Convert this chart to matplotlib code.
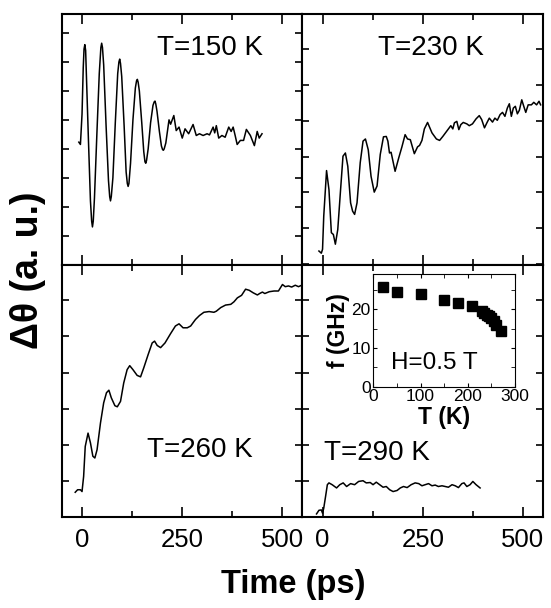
import numpy as np
import matplotlib
matplotlib.use("Agg")
import matplotlib.pyplot as plt
from matplotlib.ticker import MultipleLocator

plt.rcParams['font.family'] = ['Liberation Sans', 'DejaVu Sans']

# T = 150 K trace (time in ps, signal in a.u.)
t_150 = [-8, -4, 0, 3, 5, 7, 9, 11, 16, 21, 24, 26, 28, 31, 37, 43, 47, 49, 51, 54, 60,
         66, 69, 71, 73, 77, 83, 89, 92, 94, 96, 99, 105, 110, 113, 115, 117, 121, 127,
         133, 136, 138, 140, 143, 149, 154, 157, 159, 161, 165, 171, 177, 180, 182, 184,
         187, 193, 198, 201, 203, 205, 209, 214, 217, 221, 229, 235, 242, 250, 257, 266,
         277, 285, 293, 302, 312, 318, 327, 331, 335, 341, 349, 357, 366, 372, 377, 382,
         387, 395, 403, 410, 420, 430, 437, 442, 449]
y_150 = [4.23, 4.15, 5.2, 6.8, 7.45, 7.6, 7.4, 6.5, 4.3, 2.2, 1.5, 1.3, 1.5, 2.3, 4.5,
         6.6, 7.5, 7.65, 7.5, 6.9, 4.8, 2.9, 2.35, 2.2, 2.35, 3.0, 4.9, 6.6, 7.0, 7.1,
         6.95, 6.5, 4.8, 3.2, 2.8, 2.7, 2.8, 3.5, 5.0, 6.1, 6.35, 6.4, 6.3, 6.0, 4.9,
         3.9, 3.55, 3.5, 3.6, 4.0, 4.9, 5.5, 5.62, 5.65, 5.55, 5.3, 4.6, 4.1, 3.97, 3.95,
         4.0, 4.2, 4.7, 5.0, 4.85, 5.15, 4.63, 4.75, 4.37, 4.69, 4.52, 4.84, 4.46, 4.52,
         4.46, 4.52, 4.48, 4.75, 4.55, 4.80, 4.37, 4.46, 4.40, 4.75, 4.60, 4.75, 4.46,
         4.15, 4.29, 4.29, 4.67, 4.46, 4.11, 4.60, 4.37, 4.52]

# T = 230 K trace
t_230 = [-9, -3, 0, 3, 10, 16, 22, 27, 32, 38, 45, 51, 57, 63, 70, 75, 80, 86, 94, 101,
         107, 114, 121, 129, 136, 144, 152, 159, 163, 167, 171, 181, 190, 198, 206, 212,
         219, 229, 237, 242, 248, 254, 262, 273, 284, 292, 300, 308, 314, 320, 325, 329,
         335, 340, 345, 351, 360, 366, 374, 383, 391, 397, 404, 410, 416, 424, 430, 436,
         443, 449, 455, 461, 466, 471, 476, 481, 486, 491, 497, 502, 507, 513, 521, 527,
         534, 540, 544]
y_230 = [0.37, 0.31, 0.42, 1.34, 2.61, 2.08, 0.88, 0.83, 0.56, 0.97, 2.08, 3.01, 3.10,
         2.73, 1.71, 1.48, 1.39, 1.71, 2.83, 3.43, 3.49, 3.19, 2.45, 2.01, 2.18, 3.06,
         3.55, 3.56, 3.43, 3.10, 3.12, 2.59, 2.96, 3.27, 3.61, 3.49, 3.47, 3.08, 3.27,
         3.31, 3.45, 3.77, 3.95, 3.66, 3.49, 3.45, 3.56, 3.68, 3.77, 3.86, 3.77, 3.94,
         3.98, 3.75, 3.89, 3.95, 3.91, 3.86, 3.91, 4.05, 4.14, 4.03, 3.80, 3.94, 4.07,
         3.96, 4.07, 4.01, 4.17, 4.23, 4.12, 4.35, 4.47, 4.12, 4.35, 4.40, 4.19, 4.29,
         4.58, 4.40, 4.23, 4.44, 4.44, 4.51, 4.44, 4.54, 4.44]

# T = 260 K trace
t_260 = [-17, -11, -4, 0, 4, 8, 15, 21, 27, 32, 37.5, 46, 54, 61, 67, 73, 82, 88, 96,
         104, 112.5, 119, 127, 137.5, 146, 154, 165, 175, 181, 187.5, 196, 207, 221, 233,
         242, 252, 262.5, 271, 283, 293, 304, 317, 329, 335, 346, 358, 371, 379, 387.5,
         398, 408, 417, 427, 437.5, 443, 450, 456, 467, 479, 490, 500, 507, 515, 523,
         532, 540, 548]
y_260 = [0.68, 0.75, 0.75, 0.70, 1.12, 1.95, 2.32, 2.05, 1.68, 1.63, 1.86, 2.60, 3.16,
         3.44, 3.51, 3.30, 3.08, 3.05, 3.20, 3.71, 4.08, 4.19, 4.08, 3.92, 3.88, 4.13,
         4.50, 4.82, 4.87, 4.75, 4.69, 4.82, 5.08, 5.29, 5.35, 5.24, 5.24, 5.29, 5.47,
         5.58, 5.67, 5.69, 5.67, 5.70, 5.80, 5.87, 5.89, 5.96, 6.07, 6.14, 6.31, 6.28,
         6.21, 6.15, 6.19, 6.23, 6.19, 6.24, 6.26, 6.26, 6.44, 6.38, 6.40, 6.37, 6.42,
         6.38, 6.42]

# T = 290 K trace
t_290 = [-15, -9, -3, 0, 3, 7.5, 12, 16, 24, 35, 43, 51.5, 60, 70, 80, 90, 101, 109, 119,
         126, 134, 142.5, 151, 159, 167.5, 176, 186, 194, 202, 211, 221, 231, 240, 248,
         256, 264.5, 273, 281, 289, 298, 306, 314, 323, 331, 339, 347.5, 353, 360, 368,
         375, 383, 393]
y_290 = [0.08, 0.18, 0.19, 0.10, 0.24, 0.56, 0.89, 0.94, 0.89, 0.80, 0.89, 0.94, 0.84,
         0.92, 0.89, 0.98, 1.00, 0.94, 0.95, 0.89, 0.96, 0.89, 0.82, 0.84, 0.75, 0.70,
         0.73, 0.80, 0.84, 0.81, 0.89, 0.94, 0.92, 0.86, 0.89, 0.92, 0.86, 0.88, 0.84,
         0.86, 0.84, 0.82, 0.89, 0.86, 0.81, 0.92, 0.94, 0.84, 0.89, 0.98, 0.89, 0.80]

# inset: precession frequency vs temperature at H = 0.5 T
T_inset = [20, 50, 100, 150, 180, 210, 230, 235, 240, 245, 250, 255, 260, 270]
f_inset = [25.6, 24.4, 23.9, 22.4, 21.7, 20.7, 19.4, 19.0, 18.6, 18.1, 17.7, 17.0, 16.0, 14.4]

panels = [
    (t_150, y_150, "T=150 K", (-0.03, 8.66), (0.615, 0.865)),
    (t_230, y_230, "T=230 K", (-0.03, 6.97), (0.533, 0.865)),
    (t_260, y_260, "T=260 K", (0, 6.97), (0.574, 0.267)),
    (t_290, y_290, "T=290 K", (0, 6.97), (0.309, 0.255)),
]

fig, axes = plt.subplots(2, 2, figsize=(5.51, 6.08), dpi=100)
fig.subplots_adjust(left=0.1125, right=0.9855, bottom=0.15, top=0.977, wspace=0, hspace=0)

for i, (ax, (t, y, label, ylim, pos)) in enumerate(zip(axes.flat, panels)):
    ax.plot(t, y, color='black', linewidth=1.1)
    ax.set_xlim(-50, 550)
    ax.set_ylim(*ylim)
    ax.xaxis.set_major_locator(MultipleLocator(250))
    ax.xaxis.set_minor_locator(MultipleLocator(125))
    ax.yaxis.set_major_locator(MultipleLocator(1))
    ax.tick_params(which='both', direction='in', top=True, right=True, width=1.2)
    ax.tick_params(which='major', length=7)
    ax.tick_params(which='minor', length=4)
    ax.tick_params(axis='y', which='major', length=5)
    ax.set_yticklabels([])
    if i < 2:
        ax.set_xticklabels([])
    else:
        ax.tick_params(axis='x', labelsize=18.5, pad=8)
    for s in ax.spines.values():
        s.set_linewidth(1.5)
    ax.text(pos[0], pos[1], label, transform=ax.transAxes, ha='center', va='center', fontsize=20)

fig.text(0.532, 0.038, "Time (ps)", ha='center', va='center', fontsize=23.5, fontweight='bold')
fig.text(0.051, 0.556, "Δθ (a. u.)", ha='center', va='center', rotation=90, fontsize=27, fontweight='bold')

# inset
ins = fig.add_axes([0.6775, 0.364, 0.257, 0.185])
ins.plot(T_inset, f_inset, 's', color='black', markersize=6.5)
ins.set_xlim(0, 300)
ins.set_ylim(0, 29)
ins.xaxis.set_major_locator(MultipleLocator(100))
ins.xaxis.set_minor_locator(MultipleLocator(50))
ins.yaxis.set_major_locator(MultipleLocator(10))
ins.yaxis.set_minor_locator(MultipleLocator(5))
ins.tick_params(which='both', direction='in', top=True, right=True, labelsize=12.5, length=3)
ins.tick_params(axis='x', pad=2)
ins.tick_params(axis='y', pad=2)
for s in ins.spines.values():
    s.set_linewidth(0.8)
ins.set_xlabel("T (K)", fontsize=16.5, fontweight='bold', labelpad=1)
ins.set_ylabel("f (GHz)", fontsize=16.5, fontweight='bold', labelpad=1)
ins.text(0.43, 0.21, "H=0.5 T", transform=ins.transAxes, ha='center', va='center', fontsize=17.5)

fig.savefig("out.png", dpi=100)
